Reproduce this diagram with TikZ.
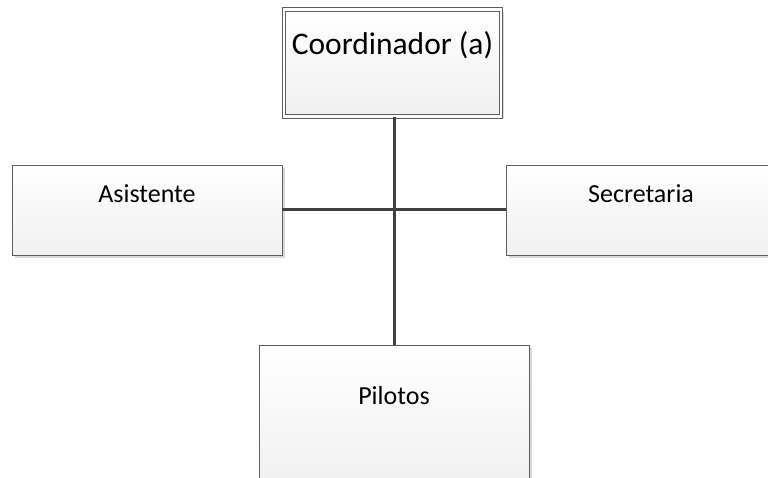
\documentclass[tikz,border=0pt]{standalone}
\usepackage{fontspec}
\setmainfont{Carlito}
\usepackage{tikz}
\usetikzlibrary{positioning,shadows}

\definecolor{edgegray}{HTML}{5E5E5E}
\definecolor{linkgray}{HTML}{404040}

\begin{document}
\begin{tikzpicture}[x=1pt,y=1pt,
  box/.style={draw=edgegray,line width=0.9pt,inner sep=0pt,
    top color=white,bottom color=black!6,
    drop shadow={shadow xshift=3pt,shadow yshift=-3pt,fill=black!15,opacity=1},
    minimum width=270pt,font=\fontsize{26}{30}\selectfont},
  titlebox/.style={box,double=white,double distance=2.6pt,line width=0.8pt,
    minimum width=217pt,font=\fontsize{31.5}{36}\selectfont},
  link/.style={draw=linkgray,line width=3pt}]
  \useasboundingbox (0,0) rectangle (768,-478);
  \node (coord) [titlebox,text height=45.5pt,text depth=61.5pt] at (392.5,-63) {Coordinador (a)};
  \node (asist) [box,text height=38pt,text depth=52pt] at (147,-210) {Asistente};
  \node (secre) [box,text height=38pt,text depth=52pt] at (641,-210) {Secretaria};
  \node (pilot) [box,text height=59pt,text depth=86pt] at (394,-417.5) {Pilotos};
  \draw [link] (pilot.north |- coord.south) -- (pilot.north);
  \draw [link] (asist.east) -- (secre.west);
\end{tikzpicture}
\end{document}
